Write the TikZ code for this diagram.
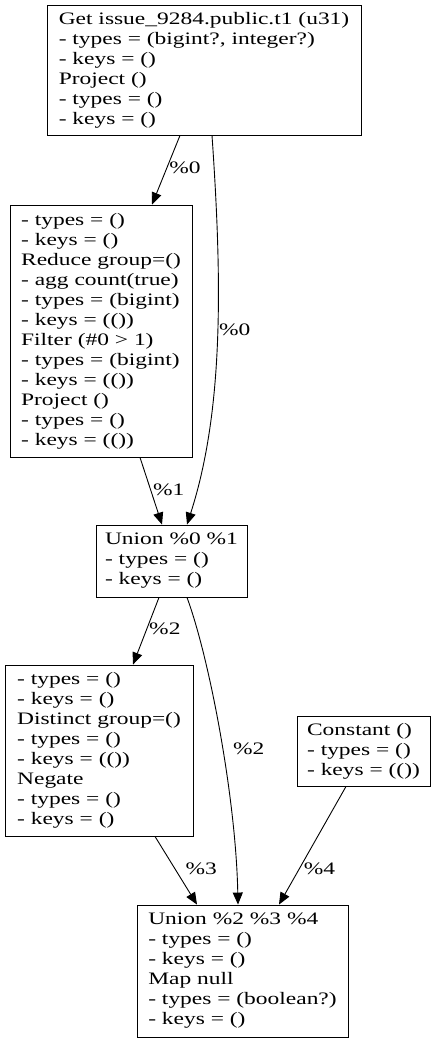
\documentclass[tikz,border=0pt]{standalone}
\usepackage{fontspec}
\setmainfont[FakeStretch=1.34]{Liberation Serif}
\usetikzlibrary{arrows.meta}

\begin{document}
\begin{tikzpicture}[x=1pt,y=-1pt,
		>={Triangle[length=12pt,width=10pt]},
		opbox/.style={draw=black,line width=0.9pt,align=left,inner xsep=4pt,inner ysep=2pt,font=\fontsize{17.5}{20}\selectfont},
		elabel/.style={font=\fontsize{17.5}{20}\selectfont,inner sep=1pt,anchor=west}]

		\useasboundingbox (0,0) rectangle (436,1043);

		\node[opbox,minimum width=314,minimum height=130] (GetT1) at (204,70) {Get issue\_9284.public.t1 (u31)\\- types = (bigint?, integer?)\\- keys = ()\\Project ()\\- types = ()\\- keys = ()};

		\node[opbox,minimum width=182,minimum height=252] (ReduceOp) at (101,331) {- types = ()\\- keys = ()\\Reduce group=()\\- agg count(true)\\- types = (bigint)\\- keys = (())\\Filter (\#0 > 1)\\- types = (bigint)\\- keys = (())\\Project ()\\- types = ()\\- keys = (())};

		\node[opbox,minimum width=151,minimum height=72] (UnionA) at (171.5,561) {Union \%0 \%1\\- types = ()\\- keys = ()};

		\node[opbox,minimum width=188,minimum height=171] (DistinctOp) at (99,750.5) {- types = ()\\- keys = ()\\Distinct group=()\\- types = ()\\- keys = (())\\Negate\\- types = ()\\- keys = ()};
		\node[opbox,minimum width=133,minimum height=70] (ConstOp) at (363.5,751) {Constant ()\\- types = ()\\- keys = (())};

		\node[opbox,minimum width=211,minimum height=132] (UnionB) at (242.5,971) {Union \%2 \%3 \%4\\- types = ()\\- keys = ()\\Map null\\- types = (boolean?)\\- keys = ()};

		\draw[->,draw=black,line width=0.9pt] ([xshift=-24pt]GetT1.south) to node[elabel,pos=0.47,xshift=1pt] {\%0} ([xshift=51pt]ReduceOp.north);
		\draw[->,draw=black,line width=0.9pt] ([xshift=8pt]GetT1.south) .. controls (222,280) and (224,410) .. node[elabel,pos=0.47] {\%0} ([xshift=15.5pt]UnionA.north);

		\draw[->,draw=black,line width=0.9pt] ([xshift=39pt]ReduceOp.south) to node[elabel,pos=0.485,xshift=1pt] {\%1} ([xshift=-9.5pt]UnionA.north);

		\draw[->,draw=black,line width=0.9pt] ([xshift=-12.5pt]UnionA.south) to node[elabel,pos=0.47,xshift=1pt] {\%2} ([xshift=34pt]DistinctOp.north);
		\draw[->,draw=black,line width=0.9pt] ([xshift=15.5pt]UnionA.south) .. controls (210,660) and (236,800) .. node[elabel,pos=0.54,xshift=9pt] {\%2} ([xshift=-4.5pt]UnionB.north);

		\draw[->,draw=black,line width=0.9pt] ([xshift=56pt]DistinctOp.south) to node[elabel,pos=0.478,xshift=9pt] {\%3} ([xshift=-45.5pt]UnionB.north);
		\draw[->,draw=black,line width=0.9pt] ([xshift=-17.5pt]ConstOp.south) to node[elabel,pos=0.697,xshift=3pt] {\%4} ([xshift=36.5pt]UnionB.north);
	\end{tikzpicture}
\end{document}
